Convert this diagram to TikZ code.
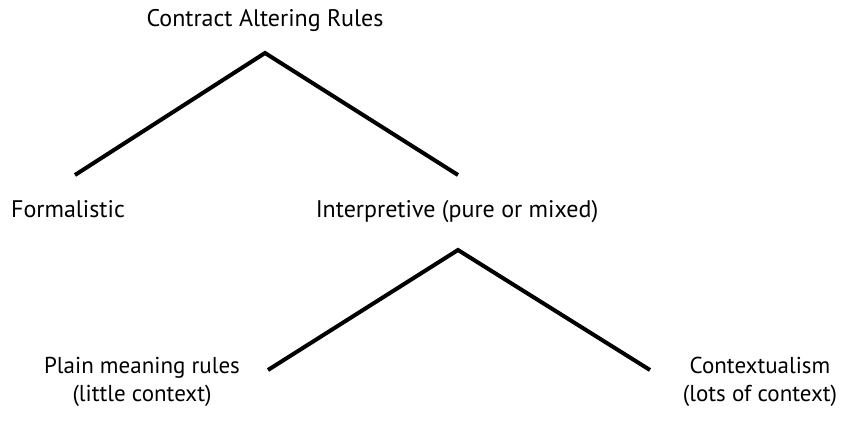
\documentclass[tikz,border=0pt]{standalone}
\usepackage{fontspec}
\setmainfont{PT Sans}
\begin{document}
\begin{tikzpicture}[x=1pt,y=-1pt,
  lbl/.style={font=\fontsize{24}{28}\selectfont, inner sep=0pt, anchor=base, align=center},
  leaf/.style={lbl, font=\fontsize{23}{28}\selectfont},
  branch/.style={line width=4pt, line join=miter}]
\useasboundingbox (0,0) rectangle (841,437);
\node[lbl] (root) at (265,26) {Contract Altering Rules};
\coordinate (a1) at (265,53);
\coordinate (l1) at (75,175);
\coordinate (r1) at (458,175);
\node[lbl] (form) at (68,217) {Formalistic};
\node[lbl] (interp) at (457,217) {Interpretive (pure or mixed)};
\coordinate (a2) at (458,250);
\coordinate (l2) at (268,370);
\coordinate (r2) at (650,370);
\node[leaf] (plain) at (142,401) {Plain meaning rules\\(little context)};
\node[leaf] (ctx) at (760,401) {Contextualism\\(lots of context)};
\draw[branch] (l1) -- (a1) -- (r1);
\draw[branch] (l2) -- (a2) -- (r2);
\end{tikzpicture}
\end{document}
